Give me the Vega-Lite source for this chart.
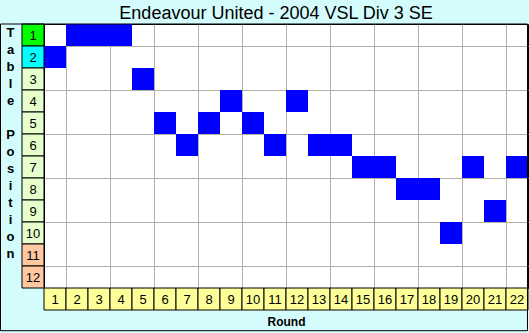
{
  "$schema": "https://vega.github.io/schema/vega-lite/v6.json",
  "width": 484,
  "height": 264,
  "autosize": {"type": "none"},
  "padding": {"left": 44, "top": 24, "right": 1, "bottom": 45},
  "background": "#d4fcfc",
  "config": {
    "view": {"fill": "white", "stroke": "black", "strokeWidth": 1}
  },
  "datasets": {
    "positions": [
      {"round": 1, "position": 2},
      {"round": 2, "position": 1},
      {"round": 3, "position": 1},
      {"round": 4, "position": 1},
      {"round": 5, "position": 3},
      {"round": 6, "position": 5},
      {"round": 7, "position": 6},
      {"round": 8, "position": 5},
      {"round": 9, "position": 4},
      {"round": 10, "position": 5},
      {"round": 11, "position": 6},
      {"round": 12, "position": 4},
      {"round": 13, "position": 6},
      {"round": 14, "position": 6},
      {"round": 15, "position": 7},
      {"round": 16, "position": 7},
      {"round": 17, "position": 8},
      {"round": 18, "position": 8},
      {"round": 19, "position": 10},
      {"round": 20, "position": 7},
      {"round": 21, "position": 9},
      {"round": 22, "position": 7}
    ],
    "tablelabels": [
      {"position": 1, "zone": "top"},
      {"position": 2, "zone": "second"},
      {"position": 3, "zone": "mid"},
      {"position": 4, "zone": "mid"},
      {"position": 5, "zone": "mid"},
      {"position": 6, "zone": "mid"},
      {"position": 7, "zone": "mid"},
      {"position": 8, "zone": "mid"},
      {"position": 9, "zone": "mid"},
      {"position": 10, "zone": "mid"},
      {"position": 11, "zone": "low"},
      {"position": 12, "zone": "low"}
    ],
    "rounds": [
      {"round": 1}, {"round": 2}, {"round": 3}, {"round": 4}, {"round": 5},
      {"round": 6}, {"round": 7}, {"round": 8}, {"round": 9}, {"round": 10},
      {"round": 11}, {"round": 12}, {"round": 13}, {"round": 14}, {"round": 15},
      {"round": 16}, {"round": 17}, {"round": 18}, {"round": 19}, {"round": 20},
      {"round": 21}, {"round": 22}
    ],
    "heading": [
      {"title": "Endeavour United - 2004 VSL Div 3 SE"}
    ]
  },
  "layer": [
    {
      "data": {"name": "positions"},
      "mark": {"type": "point", "shape": "square", "size": 484, "filled": true, "opacity": 1, "strokeWidth": 0, "color": "#0000ff"},
      "encoding": {
        "x": {
          "field": "round", "type": "quantitative",
          "scale": {"domain": [0.5, 22.5], "nice": false, "zero": false},
          "axis": {
            "orient": "bottom",
            "values": [1.5, 2.5, 3.5, 4.5, 5.5, 6.5, 7.5, 8.5, 9.5, 10.5, 11.5, 12.5, 13.5, 14.5, 15.5, 16.5, 17.5, 18.5, 19.5, 20.5, 21.5],
            "grid": true, "gridColor": "#b4b0a8", "gridOpacity": 1, "gridWidth": 1,
            "labels": false, "ticks": false, "domain": false,
            "title": "Round",
            "titleFont": "Liberation Sans", "titleFontSize": 12, "titleFontWeight": "bold", "titleColor": "black",
            "titleX": 242, "titleY": 33, "titleBaseline": "middle", "titleAlign": "center"
          }
        },
        "y": {
          "field": "position", "type": "quantitative",
          "scale": {"domain": [0.5, 12.5], "nice": false, "zero": false, "reverse": true},
          "axis": {
            "orient": "left",
            "values": [1.5, 2.5, 3.5, 4.5, 5.5, 6.5, 7.5, 8.5, 9.5, 10.5, 11.5],
            "grid": true, "gridColor": "#b4b0a8", "gridOpacity": 1, "gridWidth": 1,
            "labels": false, "ticks": false, "domain": false,
            "title": ["T", "a", "b", "l", "e", "\u200b", "P", "o", "s", "i", "t", "i", "o", "n"],
            "titleFont": "Liberation Sans", "titleFontSize": 13, "titleFontWeight": "bold", "titleColor": "black",
            "titleAngle": 0, "titleAlign": "center", "titleBaseline": "top",
            "titleX": -34, "titleY": 2, "titleLineHeight": 17
          }
        }
      }
    },
    {
      "data": {"name": "tablelabels"},
      "mark": {"type": "point", "shape": "square", "size": 484, "filled": true, "opacity": 1, "stroke": "black", "strokeWidth": 1},
      "encoding": {
        "x": {"datum": 0, "type": "quantitative"},
        "y": {"field": "position", "type": "quantitative"},
        "color": {
          "field": "zone", "type": "nominal",
          "scale": {"domain": ["top", "second", "mid", "low"], "range": ["#00ff00", "#00ffff", "#e6ffcc", "#ffc8a0"]},
          "legend": null
        }
      }
    },
    {
      "data": {"name": "tablelabels"},
      "mark": {"type": "text", "font": "Liberation Sans", "fontSize": 13, "color": "black", "align": "center", "baseline": "middle", "dy": 1},
      "encoding": {
        "x": {"datum": 0, "type": "quantitative"},
        "y": {"field": "position", "type": "quantitative"},
        "text": {"field": "position", "type": "quantitative"}
      }
    },
    {
      "data": {"name": "rounds"},
      "mark": {"type": "point", "shape": "square", "size": 484, "filled": true, "opacity": 1, "color": "#ffff99", "stroke": "black", "strokeWidth": 1},
      "encoding": {
        "x": {"field": "round", "type": "quantitative"},
        "y": {"datum": 13, "type": "quantitative"}
      }
    },
    {
      "data": {"name": "rounds"},
      "mark": {"type": "text", "font": "Liberation Sans", "fontSize": 13, "color": "black", "align": "center", "baseline": "middle", "dy": 1},
      "encoding": {
        "x": {"field": "round", "type": "quantitative"},
        "y": {"datum": 13, "type": "quantitative"},
        "text": {"field": "round", "type": "quantitative"}
      }
    },
    {
      "data": {"name": "heading"},
      "mark": {"type": "text", "font": "Liberation Sans", "fontSize": 18, "color": "black", "align": "center", "baseline": "alphabetic"},
      "encoding": {
        "x": {"datum": 11.05, "type": "quantitative"},
        "y": {"datum": 0.273, "type": "quantitative"},
        "text": {"field": "title", "type": "nominal"}
      }
    },
    {
      "data": {"values": [{}]},
      "mark": {"type": "rect", "fillOpacity": 0, "stroke": "black", "strokeWidth": 1},
      "encoding": {
        "x": {"datum": -1.477, "type": "quantitative"},
        "x2": {"datum": 22.477},
        "y": {"datum": 0.5, "type": "quantitative"},
        "y2": {"datum": 14.44}
      }
    }
  ]
}
